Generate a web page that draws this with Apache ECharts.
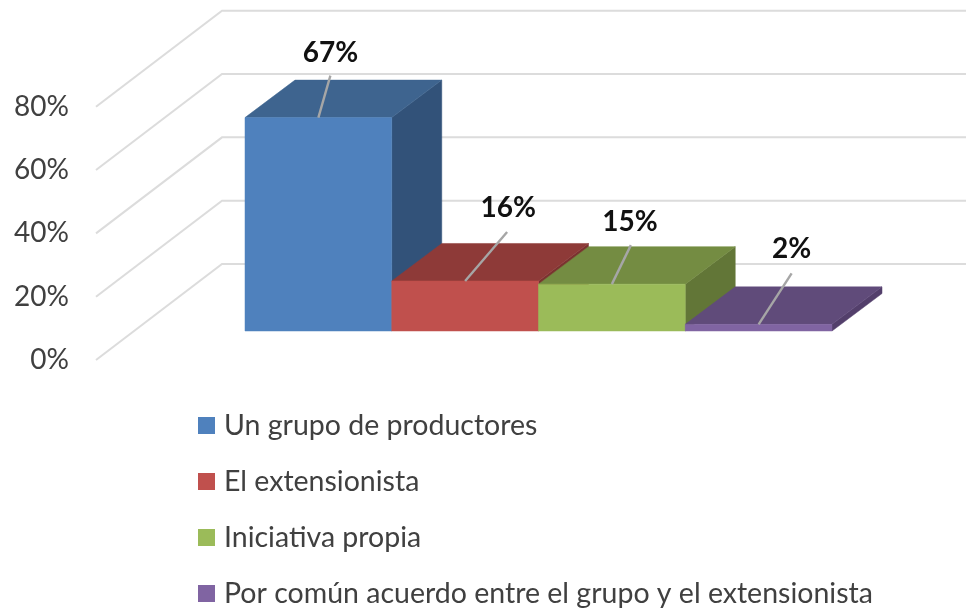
<!DOCTYPE html>
<html>
<head>
<meta charset="utf-8">
<style>html,body{margin:0;padding:0;background:#fff}#c{width:966px;height:608px}</style>
<script src="https://cdn.jsdelivr.net/npm/echarts@6/dist/echarts.min.js"></script>
</head>
<body>
<div id="c"></div>
<script>
const categories = ['Un grupo de productores', 'El extensionista', 'Iniciativa propia', 'Por común acuerdo entre el grupo y el extensionista'];
const values = [67.4, 15.8, 14.8, 2.1];
const axisTicks = [0, 20, 40, 60, 80];

const FONT = 'Lato, sans-serif';
const faceColors = ['#4F81BD', '#C0504D', '#9BBB59', '#8064A2'];
const topColors = ['#3E648F', '#8E3A38', '#748C42', '#604B7A'];
const sideColors = ['#325279', '#7A3230', '#627637', '#533F6B'];
const leaderEnds = [[12, -42], [42, -49], [19, -39], [33, -51]];
const labelAt = [[12, -65], [43, -73], [18, -62], [33, -75]];
const BAR_DEPTH = [50, -37.5];
const WALL_DEPTH = [126, -96];

const chart = echarts.init(document.getElementById('c'), null, {renderer: 'canvas'});

function poly(points, fill) {
  return {type: 'polygon', shape: {points}, style: {fill, stroke: fill, lineWidth: 0.5}};
}

function renderBar(i) {
  return function (params, api) {
    const base = api.coord([api.value(0), 0]);
    const top = api.coord([api.value(0), api.value(1)]);
    const w = api.size([1, 0])[0];
    const l = base[0] - w / 2, r = base[0] + w / 2;
    const [dx, dy] = BAR_DEPTH;
    const t = top[1], b = base[1];
    const cx = base[0];
    return {
      type: 'group',
      children: [
        poly([[r, t], [r + dx, t + dy], [r + dx, b + dy], [r, b]], sideColors[i]),
        poly([[l, t], [l + dx, t + dy], [r + dx, t + dy], [r, t]], topColors[i]),
        poly([[l, t], [r, t], [r, b], [l, b]], faceColors[i]),
        {type: 'line', z2: 5, shape: {x1: cx, y1: t, x2: cx + leaderEnds[i][0], y2: t + leaderEnds[i][1]},
          style: {stroke: '#A6A6A6', lineWidth: 2.4}},
        {type: 'text', z2: 6, x: cx + labelAt[i][0], y: t + labelAt[i][1],
          style: {text: Math.round(api.value(1)) + '%', font: 'bold 28px ' + FONT, fill: '#111', align: 'center', verticalAlign: 'middle'}}
      ]
    };
  };
}

function renderWall(params, api) {
  const p = api.coord([0, api.value(0)]);
  const q = [p[0] + WALL_DEPTH[0], p[1] + WALL_DEPTH[1]];
  return {type: 'polyline', shape: {points: [p, q, [api.getWidth(), q[1]]]},
    style: {fill: 'none', stroke: '#DCDCDC', lineWidth: 2}};
}

const barSeries = categories.map((name, i) => ({
  name, type: 'custom', xAxisIndex: 1, yAxisIndex: 1, z: 3 + i, silent: true,
  itemStyle: {color: faceColors[i]},
  encode: {x: 0, y: 1},
  renderItem: renderBar(i),
  data: [[i, values[i]]]
}));

chart.setOption({
  animation: false,
  backgroundColor: '#fff',
  legend: {
    orient: 'vertical', left: 198, top: 411, height: 300, itemWidth: 17, itemHeight: 17, itemGap: 27,
    icon: 'rect', selectedMode: false, data: categories,
    textStyle: {fontFamily: FONT, fontSize: 28.5, color: '#404040', lineHeight: 26, padding: [0, 0, 0, 4]},
    padding: 0
  },
  grid: [
    {left: 96, top: 106.7, width: 870, height: 253.3},
    {left: 245, top: 77.7, width: 587, height: 253.3}
  ],
  xAxis: [
    {gridIndex: 0, type: 'value', min: 0, max: 1, show: false},
    {gridIndex: 1, type: 'category', data: categories, show: false}
  ],
  yAxis: [
    {gridIndex: 0, type: 'value', min: 0, max: 80, interval: 20,
      axisLine: {show: false}, axisTick: {show: false}, splitLine: {show: false},
      axisLabel: {formatter: '{value}%', margin: 27, fontFamily: FONT, fontSize: 28, color: '#404040'}},
    {gridIndex: 1, type: 'value', min: 0, max: 80, interval: 20, show: false}
  ],
  series: [
    {type: 'custom', xAxisIndex: 0, yAxisIndex: 0, z: 1, silent: true, renderItem: renderWall,
      encode: {y: 0}, data: axisTicks.map(v => [v])},
    ...barSeries
  ]
});
</script>
</body>
</html>
